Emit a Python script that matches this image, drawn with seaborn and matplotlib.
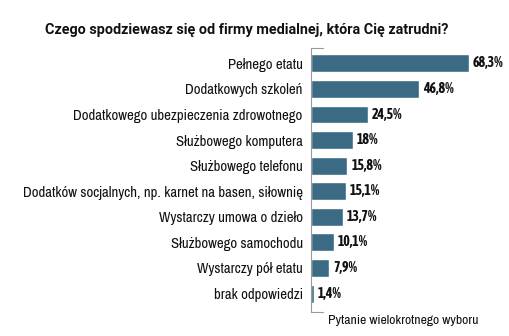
import matplotlib
matplotlib.use("Agg")
import matplotlib.pyplot as plt
import seaborn as sns
import pandas as pd
from matplotlib import font_manager

categories = ["Pełnego etatu", "Dodatkowych szkoleń", "Dodatkowego ubezpieczenia zdrowotnego",
              "Służbowego komputera", "Służbowego telefonu",
              "Dodatków socjalnych, np. karnet na basen, siłownię",
              "Wystarczy umowa o dzieło", "Służbowego samochodu",
              "Wystarczy pół etatu", "brak odpowiedzi"]
values = [68.3, 46.8, 24.5, 18, 15.8, 15.1, 13.7, 10.1, 7.9, 1.4]
value_labels = ["68,3%", "46,8%", "24,5%", "18%", "15,8%", "15,1%", "13,7%", "10,1%", "7,9%", "1,4%"]

sns.set_style("white")
fl = font_manager.fontManager.ttflist
cond = sorted({f.name for f in fl if "Condensed" in f.name or "Narrow" in f.name})
main = cond[0] if cond else "Roboto"
def wnum(w):
    if isinstance(w, int):
        return w
    return {"bold": 700, "heavy": 800, "black": 900, "semibold": 600, "demibold": 600}.get(str(w).lower(), 400)
bold_cond = sorted({f.name for f in fl if ("Condensed" in f.name or "Narrow" in f.name) and wnum(f.weight) >= 600})
bmain = bold_cond[0] if bold_cond else main
plt.rcParams['font.family'] = [main, 'Roboto', 'DejaVu Sans']

df = pd.DataFrame({"cat": categories, "val": values})
fig = plt.figure(figsize=(5.1, 3.36), dpi=100)
ax = fig.add_axes([311/510, 1-312/336, (505-311)/510, (312-48)/336])
sns.barplot(data=df, y="cat", x="val", color="#3b6a85", saturation=1, width=0.7, ax=ax, orient="h")
ax.set_xlim(0, (505-311)/2.31)
ax.set_ylim(9.72, -0.6)
ax.set_xlabel("")
ax.set_ylabel("")
ax.set_xticks([])
ax.tick_params(axis="y", length=0, pad=6, labelsize=10.6, labelcolor="#111111")
for s in ["top", "right", "bottom"]:
    ax.spines[s].set_visible(False)
ax.spines["left"].set_color("#999999")
ax.spines["left"].set_linewidth(0.8)
ax.plot([0, 5], [-0.6, -0.6], color="#999999", lw=0.8, clip_on=False)
ax.plot([0, 5], [9.72, 9.72], color="#999999", lw=0.8, clip_on=False)
for i, (v, lab) in enumerate(zip(values, value_labels)):
    ax.text(v + 1.6, i, lab, va="center", ha="left", fontsize=10,
            fontweight="bold", color="#111111", family=[bmain, main, "DejaVu Sans"])

fig.text(247/510, 1-30/336, "Czego spodziewasz się od firmy medialnej, która Cię zatrudni?",
         ha="center", va="center", fontsize=10.4, fontweight="bold", family=["Roboto", "DejaVu Sans"],
         color="#111111")
fig.text(403/510, 1-321/336, "Pytanie wielokrotnego wyboru", ha="center", va="center",
         fontsize=9.8, color="#111111")
fig.savefig("out.png", dpi=100)
